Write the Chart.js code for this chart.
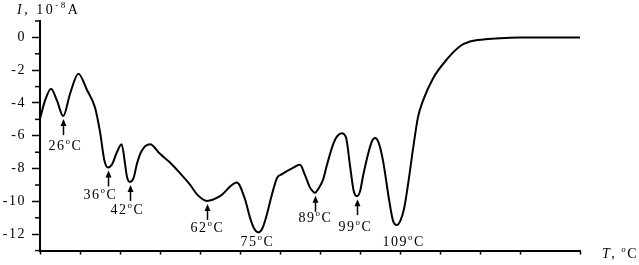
<!DOCTYPE html>
<html>
<head>
<meta charset="utf-8">
<script src="https://cdn.jsdelivr.net/npm/chart.js@4/dist/chart.umd.min.js"></script>
<style>
  html, body { margin: 0; background: #fff; }
  #wrap { width: 639px; height: 265px; }
</style>
</head>
<body>
<div id="wrap"><canvas id="myChart"></canvas></div>
<script>
// temperature, deg C
const temps = [20, 21.25, 22.75, 24.25, 25.8, 27.5, 29.6, 31.75, 33.75, 35, 36.1, 37,
  38, 39.2, 40.4, 41.25, 41.75, 42.5, 43.4, 44.25, 45.4, 47.5, 50, 52.5, 55, 57.5, 59.25, 61.75,
  65, 69.2, 71.25, 72.5, 73.5, 74.6, 75.6, 76.5, 78, 79.25, 80.5, 83, 85, 86.25, 87.5, 87.9,
  88.75, 89.6, 90.75, 91.7, 93.3, 94.25, 95.4, 96.5, 97.5, 98.4, 99.2, 100, 100.8, 102.9, 103.75,
  104.6, 105.75, 107.25, 108.25, 109.2, 110.1, 111, 112, 113.25, 114.5, 115.75, 118.25, 121.75,
  125, 127.5, 131.25, 135, 140, 155];
// current, 10^-8 A
const current = [-4.96, -3.86, -3.13, -3.86, -4.8, -3.45, -2.21, -3.21, -4.27,
  -5.75, -7.5, -7.93, -7.75, -7.02, -6.51, -7.69, -8.51, -8.81, -8.57, -7.69, -6.92, -6.51,
  -7.1, -7.63, -8.28, -8.98, -9.57, -9.97, -9.68, -8.85, -9.87, -10.99, -11.64, -11.89, -11.64,
  -10.99, -9.57, -8.57, -8.34, -7.99, -7.77, -8.4, -9.16, -9.3, -9.48, -9.22, -8.69, -7.81,
  -6.51, -6.04, -5.85, -6.1, -7.81, -9.34, -9.68, -9.4, -8.4, -6.39, -6.14, -6.39, -7.51,
  -9.87, -11.17, -11.44, -11.17, -10.46, -8.98, -6.81, -4.86, -3.86, -2.5, -1.33, -0.54,
  -0.25, -0.12, -0.05, -0.01, 0];

// marked minima
const peakTemps = [25.8, 37, 42.5, 61.75, 74.6, 88.75, 99.2, 109.2];
const peakCurrent = [-4.8, -7.93, -8.81, -9.97, -11.89, -9.48, -9.68, -11.44];
const peakLabels = ["26", "36", "42", "62", "75", "89", "99", "109"];
const peakArrow = [true, true, true, true, false, true, true, false];

const yMajor = [0, -2, -4, -6, -8, -10, -12];
const yMinor = [1, -1, -3, -5, -7, -9, -11, -13];

// label offset from the minimum point: [dx of text start, dy of baseline]
const labelOffsets = [[-15, 34], [-25, 32], [-20, 32], [-17, 31], [-18, 14], [-17, 29], [-19, 35], [-15, 21]];

const FONT = '"Liberation Serif", "Times New Roman", serif';

function drawRich(ctx, x, y, parts) {
  parts.forEach(([txt, kind]) => {
    let size = 14, dy = 0, style = '';
    if (kind === 'sup') { size = 9; dy = -6; }
    if (kind === 'it') style = 'italic ';
    ctx.font = style + size + 'px ' + FONT;
    ctx.fillText(txt, x, y + dy);
    x += ctx.measureText(txt).width;
  });
}

const annotate = {
  id: 'annotate',
  beforeDraw(chart) {
    chart.ctx.letterSpacing = '1.5px';
  },
  afterDraw(chart) {
    const { ctx, scales: { x, y } } = chart;
    ctx.save();
    ctx.fillStyle = '#000';
    ctx.strokeStyle = '#000';
    ctx.letterSpacing = '1.5px';
    ctx.textAlign = 'left';
    ctx.textBaseline = 'alphabetic';

    // short minor ticks on the current axis
    ctx.lineWidth = 1.5;
    yMinor.forEach(v => {
      const py = y.getPixelForValue(v);
      ctx.beginPath();
      ctx.moveTo(x.left - 5, py);
      ctx.lineTo(x.left, py);
      ctx.stroke();
    });

    peakTemps.forEach((t, i) => {
      const px = Math.round(x.getPixelForValue(t)) + 0.5;
      const py = y.getPixelForValue(peakCurrent[i]);
      if (peakArrow[i]) {
        ctx.lineWidth = 1.5;
        ctx.beginPath();
        ctx.moveTo(px, py + 8);
        ctx.lineTo(px, py + 19);
        ctx.stroke();
        ctx.beginPath();
        ctx.moveTo(px, py + 3);
        ctx.lineTo(px - 3, py + 10);
        ctx.lineTo(px + 3, py + 10);
        ctx.closePath();
        ctx.fill();
      }
      const [dx, dy] = labelOffsets[i];
      drawRich(ctx, px + dx, py + dy, [[peakLabels[i]], ['o', 'sup'], ['C']]);
    });

    // axis titles
    ctx.letterSpacing = '2.5px';
    drawRich(ctx, 17, 14, [['I', 'it'], [', 10'], ['-8', 'sup'], ['A']]);
    ctx.letterSpacing = '1.5px';
    drawRich(ctx, 602, 258, [['T', 'it'], [', '], ['o', 'sup'], ['C']]);
    ctx.restore();
  }
};

document.addEventListener('DOMContentLoaded', () => {
  const ctx = document.getElementById('myChart').getContext('2d');
  new Chart(ctx, {
    type: 'line',
    data: {
      datasets: [{
        data: temps.map((t, i) => ({ x: t, y: current[i] })),
        borderColor: '#000',
        borderWidth: 2,
        pointRadius: 0,
        fill: false,
        cubicInterpolationMode: 'monotone'
      }]
    },
    options: {
      responsive: true,
      maintainAspectRatio: false,
      animation: false,
      layout: { padding: { top: 21, right: 59, left: 0, bottom: 0 } },
      plugins: { legend: { display: false }, tooltip: { enabled: false } },
      scales: {
        x: {
          type: 'linear',
          min: 20,
          max: 155,
          afterFit: s => { s.height = 7; },
          border: { color: '#000', width: 2 },
          grid: { drawOnChartArea: false, tickLength: 4, tickColor: '#000', tickWidth: 1.5 },
          ticks: { stepSize: 10, display: false }
        },
        y: {
          min: -13,
          max: 1,
          afterFit: s => { s.width = 40; },
          afterBuildTicks: s => { s.ticks = yMajor.map(v => ({ value: v })); },
          border: { color: '#000', width: 2 },
          grid: { drawOnChartArea: false, tickLength: 8, tickColor: '#000', tickWidth: 1.5 },
          ticks: {
            color: '#000',
            padding: 6,
            font: { family: FONT, size: 14 }
          }
        }
      }
    },
    plugins: [annotate]
  });
});
</script>
</body>
</html>
